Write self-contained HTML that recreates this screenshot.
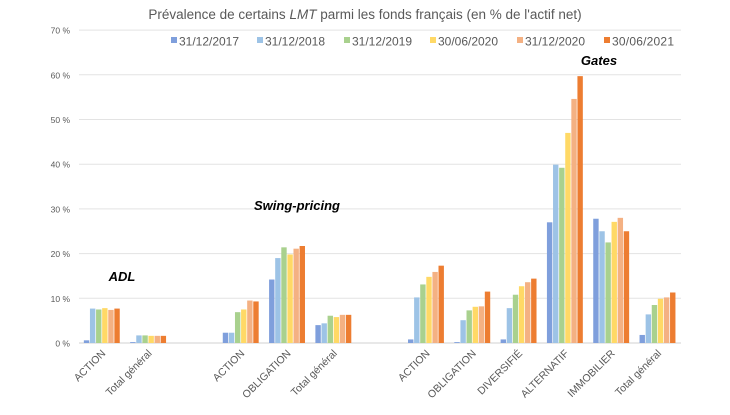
<!DOCTYPE html>
<html><head><meta charset="utf-8"><style>
body{margin:0;background:#fff;}
svg text{font-family:"Liberation Sans",sans-serif;}
</style></head><body>
<svg id="c" width="730" height="410" xmlns="http://www.w3.org/2000/svg"></svg>
<script>
const s=document.getElementById('c');
let h='';
h+='<text x="365" y="19" text-anchor="middle" font-size="13.5" fill="#595959">Prévalence de certains <tspan font-style="italic">LMT</tspan> parmi les fonds français (en % de l\'actif net)</text>';
const y0=343,u=44.7/10,x0=79,x1=681;
for(let i=0;i<=7;i++){const y=y0-i*10*u;
h+=`<line x1="${x0}" x2="${x1}" y1="${y}" y2="${y}" stroke="${i?'#e3e3e3':'#d0d0d0'}" stroke-width="1"/>`;
h+=`<text x="70" y="${y+3.5}" text-anchor="end" font-size="8.5" fill="#595959">${i*10} %</text>`;}
const cols=['#7f9fdc','#9dc3e6','#a9d18e','#ffd966','#f4b183','#ed7d31'];
const leg=['31/12/2017','31/12/2018','31/12/2019','30/06/2020','31/12/2020','30/06/2021'];
const lx=[173,259,346,432,519,606];
leg.forEach((l,i)=>{h+=`<rect x="${lx[i]-2}" y="37" width="6" height="6" fill="${cols[i]}"/><text x="${lx[i]+6}" y="45.5" font-size="12" textLength="${i==5?62:60}" fill="#595959">${l}</text>`;});
const data=[[0,'ACTION',[0.6,7.7,7.5,7.8,7.4,7.7]],[1,'Total général',[0.2,1.7,1.7,1.6,1.6,1.6]],
[3,'ACTION',[2.3,2.3,6.9,7.5,9.5,9.3]],[4,'OBLIGATION',[14.2,19.0,21.4,19.8,21.1,21.7]],[5,'Total général',[4.0,4.4,6.1,5.8,6.3,6.3]],
[7,'ACTION',[0.8,10.2,13.1,14.8,15.9,17.3]],[8,'OBLIGATION',[0.2,5.1,7.3,8.1,8.2,11.5]],[9,'DIVERSIFIÉ',[0.8,7.8,10.8,12.7,13.6,14.4]],
[10,'ALTERNATIF',[27.0,39.9,39.2,47.0,54.6,59.7]],[11,'IMMOBILIER',[27.8,25.0,22.5,27.1,28.0,25.0]],[12,'Total général',[1.8,6.4,8.5,9.9,10.2,11.3]]];
const sw=(x1-x0)/13;
data.forEach(([k,l,v])=>{const c=x0+(k+0.5)*sw;
v.forEach((d,i)=>{const x=c-18.3+i*6.1,hh=d*u;h+=`<rect x="${x}" y="${y0-hh}" width="5.4" height="${hh}" fill="${cols[i]}"/>`;});
h+=`<text transform="translate(${c+4},${y0+11}) rotate(-45)" text-anchor="end" font-size="10.5" fill="#595959">${l}</text>`;});
h+='<text x="122" y="281" text-anchor="middle" font-size="13" font-weight="bold" font-style="italic" fill="#000">ADL</text>';
h+='<text x="297" y="210" text-anchor="middle" font-size="13" font-weight="bold" font-style="italic" fill="#000">Swing-pricing</text>';
h+='<text x="599" y="65" text-anchor="middle" font-size="13" font-weight="bold" font-style="italic" fill="#000">Gates</text>';
s.innerHTML=h;
</script>
</body></html>
